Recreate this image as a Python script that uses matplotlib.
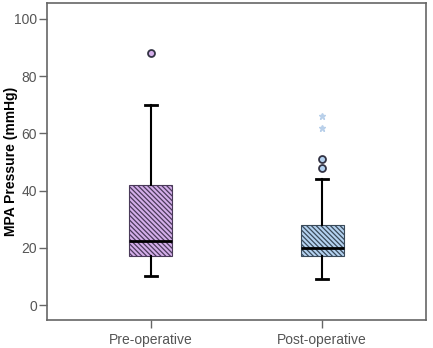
import matplotlib.pyplot as plt
import matplotlib as mpl

plt.rcParams["font.family"] = ["Liberation Sans", "DejaVu Sans"]
mpl.rcParams["hatch.linewidth"] = 0.9

# box statistics
groups = ["Pre-operative", "Post-operative"]
whislo = [10, 9]
q1 = [17, 17]
med = [22.5, 20]
q3 = [42, 28]
whishi = [70, 44]
outliers = [[88], [51, 48]]
extremes = [[], [66, 62]]
fill_colors = ["#d4aeea", "#b4d2f0"]
hatch_colors = ["#4a3a5a", "#3a4a5a"]

stats = []
for i, g in enumerate(groups):
    stats.append({"label": g, "whislo": whislo[i], "q1": q1[i], "med": med[i],
                  "q3": q3[i], "whishi": whishi[i], "fliers": []})

fig = plt.figure(figsize=(4.33, 3.48), dpi=100)
ax = fig.add_axes([0.108, 0.08, 0.876, 0.912])

bp = ax.bxp(stats, positions=[1, 2], widths=0.25, patch_artist=True,
            showfliers=False, capwidths=0.07,
            medianprops={"color": "black", "linewidth": 2},
            whiskerprops={"color": "black", "linewidth": 1.5},
            capprops={"color": "black", "linewidth": 2})

for patch, fc, hc in zip(bp["boxes"], fill_colors, hatch_colors):
    patch.set_facecolor(fc)
    patch.set_edgecolor(hc)
    patch.set_hatch("\\" * 7)
    patch.set_linewidth(0.8)

for i, pts in enumerate(outliers):
    ax.plot([i + 1] * len(pts), pts, "o", ms=5, mfc=fill_colors[i],
            mec="#333344", mew=1.3, linestyle="none")
for i, pts in enumerate(extremes):
    if pts:
        ax.plot([i + 1] * len(pts), pts, "*", ms=5, color="#b9d0ea",
                linestyle="none")

ax.set_xlim(0.394, 2.606)
ax.set_ylim(-5.25, 105.6)
ax.set_yticks([0, 20, 40, 60, 80, 100])
ax.set_xticks([1, 2])
ax.set_xticklabels(groups)
ax.set_ylabel("MPA Pressure (mmHg)", fontsize=10, fontweight="bold")
ax.yaxis.set_label_coords(-0.077, 0.5)

for s in ax.spines.values():
    s.set_color("#666666")
    s.set_linewidth(1.2)
ax.tick_params(axis="both", colors="#666666", labelcolor="#555555",
               labelsize=10, length=6, width=1, pad=1)
ax.tick_params(axis="x", pad=3)

fig.savefig("out.png", dpi=100)
